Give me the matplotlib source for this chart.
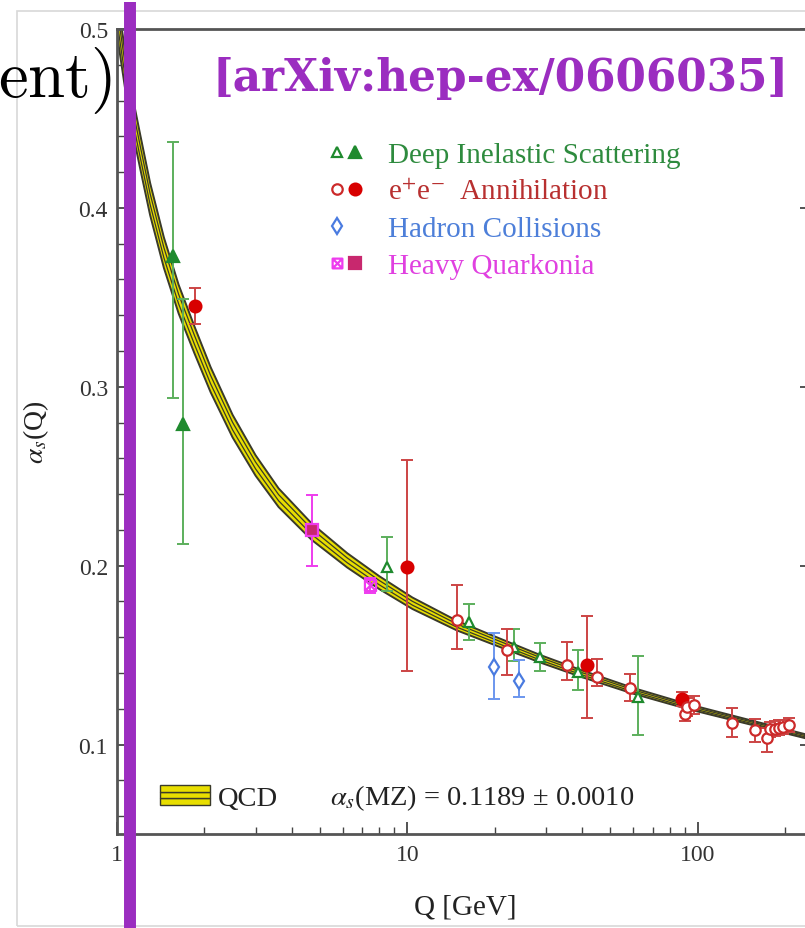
import matplotlib
matplotlib.use("Agg")
import matplotlib.pyplot as plt
from matplotlib.lines import Line2D
from matplotlib.patches import Rectangle
from matplotlib.path import Path
from matplotlib.ticker import MultipleLocator, NullFormatter
from matplotlib.legend_handler import HandlerTuple, HandlerBase

plt.rcParams['font.family'] = ['Liberation Serif', 'DejaVu Serif']
plt.rcParams['mathtext.fontset'] = 'stix'

# QCD band: Q [GeV], centre, half width
qcd_q = [1.0, 1.1, 1.2, 1.3, 1.45, 1.63, 1.85, 2.1, 2.5, 3.0, 3.6, 4.68, 6.2,
         8.0, 10.4, 14.8, 20, 28.6, 40, 60, 91, 155, 250]
qcd_mid = [0.508, 0.462, 0.432, 0.405, 0.375, 0.349, 0.326, 0.304, 0.278, 0.256,
           0.238, 0.219, 0.203, 0.1905, 0.179, 0.1665, 0.158, 0.148, 0.1395,
           0.130, 0.1215, 0.112, 0.1035]
qcd_half = [0.011, 0.010, 0.0095, 0.009, 0.0085, 0.008, 0.0075, 0.007, 0.0063,
            0.0057, 0.0052, 0.0046, 0.004, 0.0036, 0.0032, 0.0027, 0.0024,
            0.0021, 0.0019, 0.0016, 0.0014, 0.0012, 0.0011]

# Deep inelastic scattering
dis_f_q = [1.56, 1.69]
dis_f_a = [0.373, 0.279]
dis_f_lo = [0.079, 0.067]
dis_f_hi = [0.064, 0.070]
dis_o_q = [8.48, 16.3, 23.3, 28.6, 38.7, 62.3]
dis_o_a = [0.199, 0.1685, 0.1546, 0.149, 0.1406, 0.1266]
dis_o_lo = [0.013, 0.010, 0.008, 0.008, 0.010, 0.021]
dis_o_hi = [0.017, 0.010, 0.010, 0.008, 0.012, 0.023]

# e+e- annihilation
ee_f_q = [1.855, 10.0, 41.4, 88.0]
ee_f_a = [0.345, 0.199, 0.1447, 0.1253]
ee_f_lo = [0.010, 0.058, 0.030, 0.004]
ee_f_hi = [0.010, 0.060, 0.027, 0.004]
ee_o_q = [14.8, 21.96, 35.3, 44.8, 58.3, 90, 92, 97, 130.6, 157, 172.4, 177,
          184, 190, 197, 206]
ee_o_a = [0.1694, 0.1527, 0.1443, 0.1378, 0.1317, 0.117, 0.121, 0.122, 0.1123,
          0.108, 0.1034, 0.1085, 0.1089, 0.1095, 0.1099, 0.1108]
ee_o_lo = [0.016, 0.014, 0.008, 0.005, 0.0075, 0.004, 0.005, 0.005, 0.008,
           0.0065, 0.0073, 0.004, 0.004, 0.004, 0.004, 0.004]
ee_o_hi = [0.0196, 0.012, 0.013, 0.010, 0.0075, 0.004, 0.005, 0.005, 0.008,
           0.0065, 0.0056, 0.004, 0.004, 0.004, 0.004, 0.004]

# hadron collisions
had_q = [19.9, 24.3]
had_a = [0.1434, 0.1354]
had_lo = [0.0177, 0.0088]
had_hi = [0.019, 0.0117]

# heavy quarkonia
hq_f_q = [4.68]
hq_f_a = [0.2197]
hq_f_err = [0.020]
hq_o_q = [7.43]
hq_o_a = [0.189]
hq_o_err = [0.004]

legend_labels = ['Deep Inelastic Scattering', 'e$^{+}$e$^{-}$  Annihilation',
                 'Hadron Collisions', 'Heavy Quarkonia']

GREEN, GREEN_BAR = '#1f8a2e', '#5caf5c'
RED, RED_BAR = '#d80000', '#cc4444'
RED_OPEN = '#cc2a2a'
BLUE, BLUE_BAR = '#4a7be0', '#6b96ee'
MAG, MAG_FILL = '#ee3cee', '#c8286e'
YELLOW, DARK = '#e8de00', '#3a3a2a'
PURPLE = '#9b2dc0'

box_x = Path([(-1, -1), (1, -1), (1, 1), (-1, 1), (-1, -1), (-1, -1), (1, 1), (-1, 1), (1, -1)],
             [Path.MOVETO, Path.LINETO, Path.LINETO, Path.LINETO, Path.CLOSEPOLY,
              Path.MOVETO, Path.LINETO, Path.MOVETO, Path.LINETO])

fig = plt.figure(figsize=(8.05, 9.29), dpi=100)
W, H = 805, 929
ax = fig.add_axes([117 / W, 94 / H, 695 / W, 805 / H])
ax.set_xscale('log')
ax.set_xlim(1, 247)
ax.set_ylim(0.05, 0.5)

# QCD band: yellow fill with three stripes
lo = [m - h for m, h in zip(qcd_mid, qcd_half)]
hi = [m + h for m, h in zip(qcd_mid, qcd_half)]
ax.fill_between(qcd_q, lo, hi, color=YELLOW, lw=0, zorder=2)
for frac, lw in [(0.0, 1.4), (1 / 3, 0.9), (2 / 3, 0.9), (1.0, 1.4)]:
    edge = [l + frac * (u - l) for l, u in zip(lo, hi)]
    ax.plot(qcd_q, edge, color=DARK, lw=lw, zorder=2)


def points(q, a, err, barcolor, marker, ms, mfc, mec):
    ax.errorbar(q, a, yerr=err, fmt='none', ecolor=barcolor, elinewidth=1.4,
                capsize=4.5, capthick=1.4, zorder=3)
    ax.plot(q, a, ls='none', marker=marker, ms=ms, mfc=mfc, mec=mec, mew=1.6, zorder=5)


points(dis_f_q, dis_f_a, [dis_f_lo, dis_f_hi], GREEN_BAR, '^', 8.5, GREEN, GREEN)
points(dis_o_q, dis_o_a, [dis_o_lo, dis_o_hi], GREEN_BAR, '^', 7.5, 'white', GREEN)
points(ee_f_q, ee_f_a, [ee_f_lo, ee_f_hi], RED_BAR, 'o', 8.5, RED, RED)
points(ee_o_q, ee_o_a, [ee_o_lo, ee_o_hi], RED_BAR, 'o', 7.5, 'white', RED_OPEN)
points(had_q, had_a, [had_lo, had_hi], BLUE_BAR, 'd', 8, 'white', BLUE)
points(hq_f_q, hq_f_a, hq_f_err, MAG, 's', 8, MAG_FILL, MAG)
points(hq_o_q, hq_o_a, hq_o_err, MAG, box_x, 8, 'none', MAG)

# axes styling
for s in ax.spines.values():
    s.set_color('#555555')
    s.set_linewidth(2.0)
ax.set_xticks([1, 10, 100])
ax.set_xticklabels(['1', '10', '100'])
ax.xaxis.set_minor_formatter(NullFormatter())
ax.set_yticks([0.1, 0.2, 0.3, 0.4, 0.5])
ax.set_yticklabels(['0.1', '0.2', '0.3', '0.4', '0.5'])
ax.yaxis.set_minor_locator(MultipleLocator(0.02))
ax.tick_params(which='both', direction='in', right=True, top=False,
               color='#444444', labelcolor='#333333', labelsize=17)
ax.tick_params(which='major', length=9, width=1.3)
ax.tick_params(which='minor', length=5, width=1.0)
ax.tick_params(axis='y', pad=6.5)
ax.tick_params(axis='x', pad=7.5)
ax.set_xlabel('Q [GeV]', fontsize=21, color='#222222')
ax.xaxis.set_label_coords(0.5007, -0.074)
ax.set_ylabel(r'$\alpha_s$(Q)', fontsize=20, color='#222222')
ax.yaxis.set_label_coords(-0.095, 0.50)

# data-type legend
mk = dict(ls='none', mew=1.6)
h_dis = (Line2D([], [], marker='^', ms=7.5, mfc='white', mec=GREEN, **mk),
         Line2D([], [], marker='^', ms=8.5, mfc=GREEN, mec=GREEN, **mk))
h_ee = (Line2D([], [], marker='o', ms=7.5, mfc='white', mec=RED_OPEN, **mk),
        Line2D([], [], marker='o', ms=8.5, mfc=RED, mec=RED, **mk))
h_had = (Line2D([], [], marker='d', ms=8, mfc='white', mec=BLUE, **mk),
         Line2D([], [], ls='none'))
h_hq = (Line2D([], [], marker=box_x, ms=7, mfc='none', mec=MAG, **mk),
        Line2D([], [], marker='s', ms=8, mfc=MAG_FILL, mec=MAG_FILL, **mk))
leg = ax.legend([h_dis, h_ee, h_had, h_hq], legend_labels,
                handler_map={tuple: HandlerTuple(ndivide=None, pad=0.0)},
                loc='upper left', bbox_to_anchor=(328 / W, (H - 143) / H),
                bbox_transform=fig.transFigure, frameon=False, fontsize=21,
                handlelength=1.25, handletextpad=0.8, labelspacing=0.36,
                borderpad=0, borderaxespad=0,
                labelcolor=['#2e8b3e', '#b83030', '#4d7fd9', '#e040e0'])
ax.add_artist(leg)


class BandHandler(HandlerBase):
    def create_artists(self, legend, orig_handle, xdescent, ydescent,
                       width, height, fontsize, trans):
        arts = []
        for i in range(3):
            arts.append(Rectangle((-xdescent, -ydescent + i * height / 3), width, height / 3,
                                  facecolor=YELLOW, edgecolor=DARK, lw=1.0, transform=trans))
        return arts


band_key = Rectangle((0, 0), 1, 1)
leg2 = ax.legend([band_key], ['QCD'], handler_map={band_key: BandHandler()},
                 loc='center left', bbox_to_anchor=(160 / W, (H - 799) / H),
                 bbox_transform=fig.transFigure, frameon=False, fontsize=20.5,
                 handlelength=1.75, handleheight=0.68, handletextpad=0.28,
                 borderpad=0, borderaxespad=0, labelcolor='#222222')
fig.text(330 / W, (H - 798) / H, r'$\alpha_s$(MZ) = 0.1189 ± 0.0010',
         fontsize=20.5, va='center', ha='left', color='#222222')

# slide decorations
fig.add_artist(Rectangle((17 / W, 2 / H), 1.0, 915 / H, fill=False,
                         edgecolor='#d8d8d8', lw=1.2, transform=fig.transFigure))
fig.text(112 / W, (H - 97) / H, r'$\mathrm{ent)}$', math_fontfamily='cm',
         fontsize=48, ha='right', va='baseline', color='black')
fig.text(212 / W, (H - 79) / H, '[arXiv:hep-ex/0606035]', family='DejaVu Serif',
         fontweight='bold', fontsize=31.5, color=PURPLE, va='center', ha='left')
fig.add_artist(Line2D([130 / W, 130 / W], [0, 926 / H], transform=fig.transFigure,
                      color=PURPLE, lw=8.6, solid_capstyle='butt', zorder=10))

fig.savefig('out.png', dpi=100)
